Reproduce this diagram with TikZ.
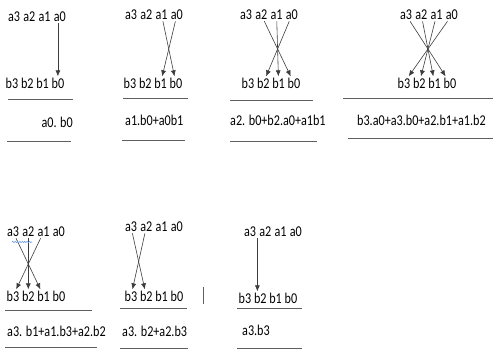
\documentclass[tikz,border=0pt]{standalone}
\usepackage{fontspec}
\setmainfont{Carlito}[FakeStretch=0.81]
\usetikzlibrary{arrows.meta, decorations.pathmorphing}
\definecolor{rulegray}{RGB}{95,95,95}
\definecolor{arrgray}{RGB}{60,60,60}
\definecolor{squigblue}{RGB}{100,150,235}
\tikzset{
  term/.style={inner sep=1.2pt, font=\fontsize{15}{18}\selectfont, text=black},
  prod/.style={inner sep=0pt, font=\fontsize{15}{18}\selectfont, text=black},
  mularr/.style={-{Latex[length=6pt, width=5pt]}, line width=0.6pt, arrgray},
  rule/.style={draw=rulegray, line width=0.9pt},
}
\def\pitch{15.3}

\begin{document}
\begin{tikzpicture}[x=1pt, y=-1pt]
\useasboundingbox (0,0) rectangle (493,352);

% =====================================================================
%  DIGIT ROWS  (a3 a2 a1 a0 over b3 b2 b1 b0)
% =====================================================================
\foreach \p/\ax/\ay/\bx/\by in {p1/8/17/6/83, p2/125/15/124/83,
    p3/240/15/242/83, p4/400/15/398/83, p5/7/232/7/296,
    p6/125/227/125/296, p7/244/232/239/298} {
  \foreach \i [count=\k from 0] in {3,2,1,0} {
    \node[term] (\p a\i) at (\ax + 6 + \k*\pitch, \ay) {a\i};
    \node[term] (\p b\i) at (\bx + 6 + \k*\pitch, \by) {b\i};
  }
}

% --- Cross multiplication arrows ---
\foreach \p/\s/\t in {p2/a1/b0, p2/a0/b1,
    p3/a2/b0, p3/a1/b1, p3/a0/b2,
    p4/a3/b0, p4/a2/b1, p4/a1/b2, p4/a0/b3,
    p5/a3/b1, p5/a2/b2, p5/a1/b3,
    p6/a3/b2, p6/a2/b3} {
  \draw[mularr] (\p\s) -- (\p\t);
}
% straight-down arrows (first and last step)
\draw[mularr] ([xshift=-2pt]p1a0.south) -- ([xshift=-2pt]p1a0.south |- p1b0.north);
\draw[mularr] (p7a3.south east) -- (p7a3.south east |- p7b3.north);

% =====================================================================
%  PARTIAL PRODUCTS
% =====================================================================
\node[prod, anchor=east] (r1) at (73, 122) {a0. b0};
\node[prod, anchor=west] (r2) at (125, 120) {a1.b0+a0b1};
\node[prod, anchor=west] (r3) at (230, 120) {a2. b0+b2.a0+a1b1};
\node[prod, anchor=west] (r4) at (357, 120) {b3.a0+a3.b0+a2.b1+a1.b2};
\node[prod, anchor=west] (r5) at (7, 331) {a3. b1+a1.b3+a2.b2};
\node[prod, anchor=west] (r6) at (122, 331) {a3. b2+a2.b3};
\node[prod, anchor=west] (r7) at (242, 330) {a3.b3};

% --- Underlines ---
\foreach \xa/\xb/\y in {8/73/99, 7/71/141, 123/188/98, 122/185/140,
    230/313/100, 230/317/141, 343/493/98, 348/493/138,
    5/92/310, 5/97/347, 120/187/308, 120/188/348,
    237/302/308, 237/302/348} {
  \draw[rule] (\xa, \y) -- (\xb, \y);
}

% small separator bar
\draw[rule, line width=0.6pt] (203, 287) -- (203, 304);

% spell-check squiggle under a3 a2
\draw[squigblue, line width=0.5pt,
      decorate, decoration={snake, amplitude=0.7pt, segment length=2.4pt}]
  (12, 242) -- (32, 242);

\end{tikzpicture}
\end{document}
